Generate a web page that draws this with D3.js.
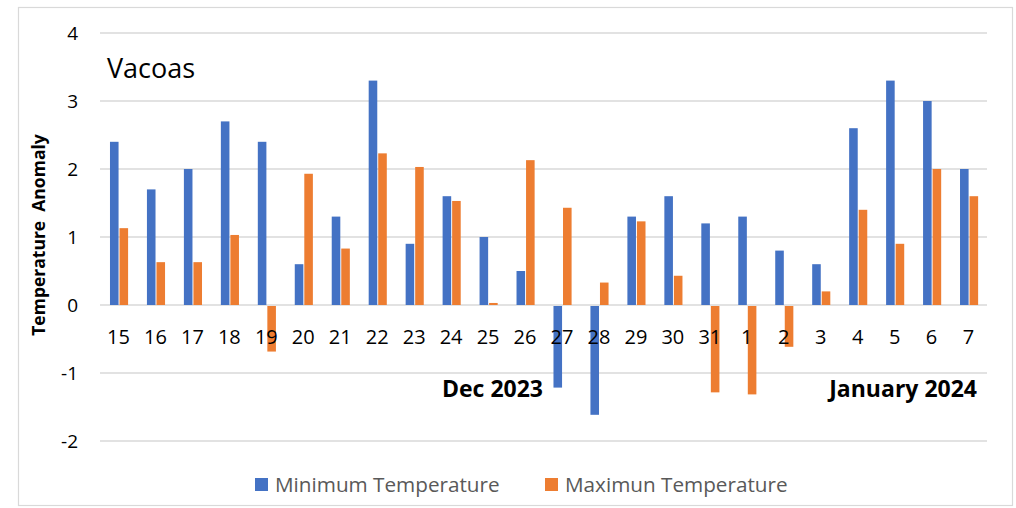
<!DOCTYPE html>
<html>
<head>
<meta charset="utf-8">
<script src="https://cdn.jsdelivr.net/npm/d3@7"></script>
<style>
  body { margin: 0; background: #fff; }
  svg { font-family: "Open Sans", Lato, sans-serif; }
</style>
</head>
<body>
<div id="chart"></div>
<script>
// data
const days = ["15","16","17","18","19","20","21","22","23","24","25","26","27","28","29","30","31","1","2","3","4","5","6","7"];
const minTemp = [2.4, 1.7, 2.0, 2.7, 2.4, 0.6, 1.3, 3.3, 0.9, 1.6, 1.0, 0.5, -1.2, -1.6, 1.3, 1.6, 1.2, 1.3, 0.8, 0.6, 2.6, 3.3, 3.0, 2.0];
const maxTemp = [1.13, 0.63, 0.63, 1.03, -0.67, 1.93, 0.83, 2.23, 2.03, 1.53, 0.03, 2.13, 1.43, 0.33, 1.23, 0.43, -1.27, -1.3, -0.6, 0.2, 1.4, 0.9, 2.0, 1.6];
const seriesNames = ["Minimum Temperature", "Maximun Temperature"];
const seriesColors = ["#4472c4", "#ed7d31"];
const yTicks = [-2, -1, 0, 1, 2, 3, 4];

const W = 1016, H = 508;
const margin = {top: 33, right: 29, bottom: 67, left: 100};

const svg = d3.select("#chart").append("svg")
    .attr("width", W)
    .attr("height", H);

// chart frame
svg.append("rect")
    .attr("x", 18.5).attr("y", 7.5)
    .attr("width", 994).attr("height", 498)
    .attr("fill", "none")
    .attr("stroke", "#d9d9d9")
    .attr("stroke-width", 1.2);

const x = d3.scaleBand()
    .domain(d3.range(days.length))
    .range([margin.left, W - margin.right])
    .padding(0);

const bw = x.bandwidth();
const x1 = d3.scaleBand()
    .domain([0, 1])
    .range([bw * 0.27, bw * 0.76])
    .paddingInner(0.1);

const y = d3.scaleLinear([-2, 4], [H - margin.bottom, margin.top]);

// gridlines
svg.append("g")
    .selectAll("line")
    .data(yTicks)
    .join("line")
    .attr("x1", margin.left)
    .attr("x2", W - margin.right)
    .attr("y1", d => y(d))
    .attr("y2", d => y(d))
    .style("stroke", "#d9d9d9")
    .style("stroke-width", 1.3);

// y tick labels
svg.append("g")
    .selectAll("text")
    .data(yTicks)
    .join("text")
    .attr("x", 78)
    .attr("y", d => y(d))
    .attr("dy", "0.36em")
    .attr("text-anchor", "end")
    .style("font-size", "19px")
    .style("fill", "#000")
    .text(d => d);

// bars
const rows = days.map((d, i) => ({i, vals: [minTemp[i], maxTemp[i]]}));
const groups = svg.append("g")
    .selectAll("g")
    .data(rows)
    .join("g")
    .attr("transform", d => `translate(${x(d.i)},0)`);

groups.selectAll("rect")
    .data(d => d.vals.map((v, k) => ({v, k})))
    .join("rect")
    .attr("x", d => x1(d.k))
    .attr("width", x1.bandwidth())
    .attr("y", d => d.v >= 0 ? y(d.v) : y(0) + 1)
    .attr("height", d => Math.abs(y(d.v) - y(0)))
    .attr("fill", d => seriesColors[d.k]);

// category labels (drawn on top of bars)
svg.append("g")
    .selectAll("text")
    .data(days)
    .join("text")
    .attr("x", (d, i) => x(i) + bw / 2)
    .attr("y", 344)
    .attr("text-anchor", "middle")
    .style("font-size", "20px")
    .style("fill", "#000")
    .text(d => d);

// station name
svg.append("text")
    .attr("x", 107).attr("y", 78)
    .style("font-size", "27px")
    .style("fill", "#000")
    .text("Vacoas");

// month annotations
svg.append("text")
    .attr("x", 543).attr("y", 397)
    .attr("text-anchor", "end")
    .style("font-size", "23px")
    .style("font-weight", "bold")
    .text("Dec 2023");

svg.append("text")
    .attr("x", 977).attr("y", 397)
    .attr("text-anchor", "end")
    .style("font-size", "23px")
    .style("font-weight", "bold")
    .text("January 2024");

// y axis title
svg.append("text")
    .attr("transform", "translate(45,235) rotate(-90)")
    .attr("text-anchor", "middle")
    .style("font-size", "17.5px")
    .style("font-weight", "bold")
    .style("white-space", "pre")
    .text("Temperature  Anomaly");

// legend
const legendX = [255, 545];
const legend = svg.append("g")
    .selectAll("g")
    .data(seriesNames)
    .join("g")
    .attr("transform", (d, i) => `translate(${legendX[i]},478)`);

legend.append("rect")
    .attr("width", 13).attr("height", 13)
    .attr("fill", (d, i) => seriesColors[i]);

legend.append("text")
    .attr("x", 20).attr("y", 14)
    .style("font-size", "20.7px")
    .style("fill", "#595959")
    .text(d => d);
</script>
</body>
</html>
